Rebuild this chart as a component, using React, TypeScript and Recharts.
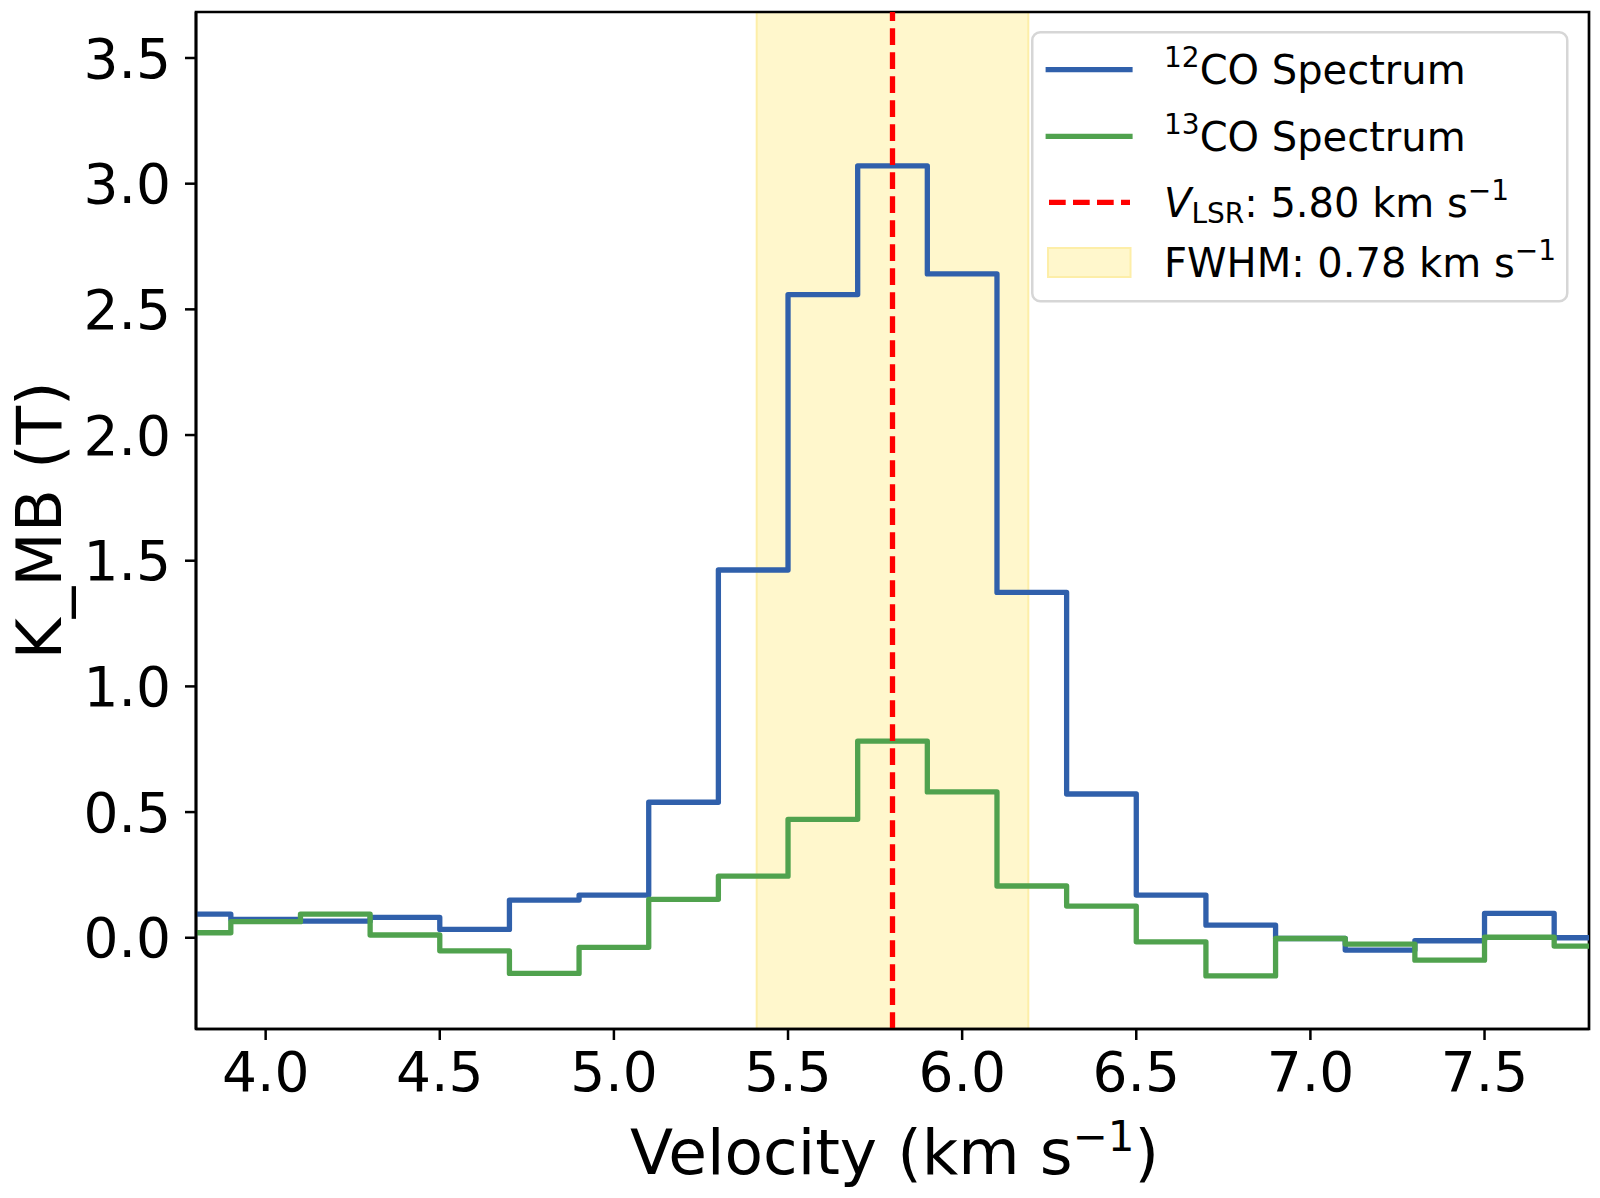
import React from "react"
import { ComposedChart, Line, XAxis, YAxis, ReferenceArea, ReferenceLine, Legend } from "recharts"

// channel velocities (km/s) and brightness temperatures
const velocity = [3.8, 4.0, 4.2, 4.4, 4.6, 4.8, 5.0, 5.2, 5.4, 5.6, 5.8, 6.0, 6.2, 6.4, 6.6, 6.8, 7.0, 7.2, 7.4, 7.6, 7.8]
const co12 = [0.094, 0.073, 0.066, 0.081, 0.033, 0.15, 0.17, 0.539, 1.463, 2.559, 3.071, 2.641, 1.374, 0.572, 0.17, 0.05, -0.003, -0.049, -0.012, 0.097, 0.0]
const co13 = [0.02, 0.064, 0.094, 0.011, -0.052, -0.142, -0.038, 0.153, 0.245, 0.471, 0.782, 0.58, 0.206, 0.126, -0.016, -0.152, -0.003, -0.025, -0.089, 0.002, -0.033]

const xTicks = [4.0, 4.5, 5.0, 5.5, 6.0, 6.5, 7.0, 7.5]
const yTicks = [0, 0.5, 1.0, 1.5, 2.0, 2.5, 3.0, 3.5]
const xDomain = [3.8, 7.8]
const yDomain = [-0.363, 3.683]

const vlsr = 5.8
const fwhmLow = 5.41
const fwhmHigh = 6.19

const BLUE = "#3060ab"
const GREEN = "#50a24e"
const RED = "#ff0000"
const BAND = "#fff7cc"
const FONT = "DejaVu Sans"
const LW = 5.3

const data = velocity.map((v, i) => ({ v, co12: co12[i], co13: co13[i] }))

const tickStyle = { fontSize: 55, fill: "#000", fontFamily: FONT }

const XLabel = (props: any) => {
    const vb = props.viewBox
    return (
        <text x={vb.x + vb.width / 2 + 2} y={vb.y + 145} textAnchor="middle" fontSize={63} fontFamily={FONT} fill="#000">
            Velocity (km s
            <tspan fontSize={42} dy={-23}>−1</tspan>
            <tspan dy={23}>)</tspan>
        </text>
    )
}

const YLabel = (props: any) => {
    const vb = props.viewBox
    const cx = vb.x + 39
    const cy = vb.y + vb.height / 2
    return (
        <text x={cx} y={cy} textAnchor="middle" dominantBaseline="central" fontSize={63} fontFamily={FONT} fill="#000"
            transform={`rotate(-90 ${cx} ${cy})`}>
            K_MB (T)
        </text>
    )
}

const LegendBox = () => (
    <svg width={540} height={274} style={{ display: "block" }}>
        <rect x={1.25} y={1.25} width={535} height={269} rx={8} ry={8} fill="#fff" fillOpacity={0.8} stroke="#d6d6d6" strokeWidth={2.5} />
        <line x1={14.6} y1={38.7} x2={101.6} y2={38.7} stroke={BLUE} strokeWidth={LW} />
        <line x1={14.6} y1={105.3} x2={101.6} y2={105.3} stroke={GREEN} strokeWidth={LW} />
        <line x1={18} y1={171.3} x2={99} y2={171.3} stroke={RED} strokeWidth={LW} strokeDasharray="16.7 7.3" />
        <rect x={17} y={217} width={82.5} height={29} fill={BAND} stroke="#fdeea8" strokeWidth={2} />
        <g fontFamily={FONT} fill="#000">
            <text x={133} y={53} fontSize={40}>
                <tspan fontSize={28} dy={-17}>12</tspan>
                <tspan dy={17}>CO Spectrum</tspan>
            </text>
            <text x={133} y={119.7} fontSize={40}>
                <tspan fontSize={28} dy={-17}>13</tspan>
                <tspan dy={17}>CO Spectrum</tspan>
            </text>
            <text x={133} y={186.3} fontSize={40}>
                <tspan fontStyle="italic">V</tspan>
                <tspan fontSize={28} dy={6}>LSR</tspan>
                <tspan dy={-6}>: 5.80 km s</tspan>
                <tspan fontSize={28} dy={-17}>−1</tspan>
            </text>
            <text x={133} y={246.3} fontSize={40}>
                FWHM: 0.78 km s
                <tspan fontSize={28} dy={-17}>−1</tspan>
            </text>
        </g>
    </svg>
)

export default function App() {
    return (
        <div style={{ position: "absolute", left: 0, top: 0, width: 1600, height: 1198, background: "#fff" }}>
            <ComposedChart width={1600} height={1198} data={data} margin={{ top: 12, right: 11, bottom: 0, left: 0 }}>
                <XAxis dataKey="v" type="number" domain={xDomain} ticks={xTicks} interval={0} allowDataOverflow
                    height={169} tickSize={11} tickMargin={12} tick={tickStyle}
                    tickFormatter={(v: number) => v.toFixed(1)}
                    axisLine={{ stroke: "#000", strokeWidth: 2.7 }} tickLine={{ stroke: "#000", strokeWidth: 2.5 }}
                    label={XLabel} />
                <YAxis type="number" domain={yDomain} ticks={yTicks} interval={0} allowDataOverflow
                    width={196} tickSize={11} tickMargin={14} tick={tickStyle}
                    tickFormatter={(v: number) => v.toFixed(1)}
                    axisLine={{ stroke: "#000", strokeWidth: 2.7 }} tickLine={{ stroke: "#000", strokeWidth: 2.5 }}
                    label={YLabel} />
                <ReferenceArea x1={fwhmLow} x2={fwhmHigh} fill={BAND} fillOpacity={1} stroke="#fdeea8" strokeWidth={2} ifOverflow="hidden" />
                <Line dataKey="co12" type="step" stroke={BLUE} strokeWidth={LW} dot={false} activeDot={false}
                    strokeLinejoin="round" isAnimationActive={false} />
                <Line dataKey="co13" type="step" stroke={GREEN} strokeWidth={LW} dot={false} activeDot={false}
                    strokeLinejoin="round" isAnimationActive={false} />
                <ReferenceLine x={vlsr} stroke={RED} strokeWidth={LW} strokeDasharray="16.7 7.3" />
                {/* axes frame (top and right spines) */}
                <ReferenceArea x1={xDomain[0]} x2={xDomain[1]} y1={yDomain[0]} y2={yDomain[1]}
                    fill="none" stroke="#000" strokeWidth={2.7} ifOverflow="visible" />
                <Legend layout="horizontal" verticalAlign="middle" align="center" content={LegendBox}
                    wrapperStyle={{ left: 1031, top: 31, width: 540, height: 274 }} />
            </ComposedChart>
        </div>
    )
}
